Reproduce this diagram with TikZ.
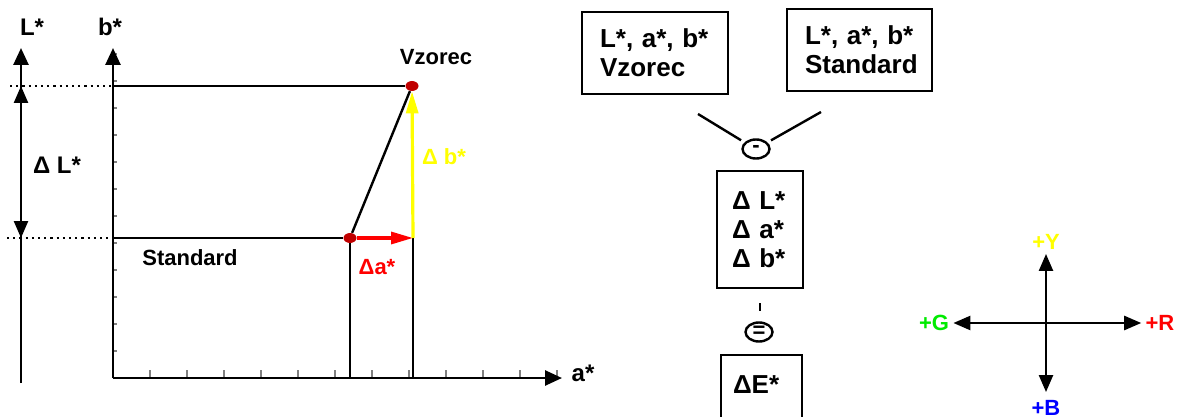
\documentclass[tikz,border=0pt]{standalone}
\usepackage{fontspec}
\setmainfont{Liberation Sans}
\usetikzlibrary{arrows.meta,shapes.geometric,calc}
\definecolor{dotred}{RGB}{192,0,0}
\definecolor{ylw}{RGB}{255,255,0}
\definecolor{grn}{RGB}{0,235,0}

\begin{document}
\begin{tikzpicture}[x=0.5pt,y=-0.5pt,
  axis/.style={line width=1.3pt,-{Triangle[length=8.5pt,width=7.5pt]}},
  dbl/.style={line width=1.2pt,{Triangle[length=8.5pt,width=7pt]}-{Triangle[length=8.5pt,width=7pt]}},
  plain/.style={line width=1.2pt},
  guide/.style={line width=1.1pt,dotted},
  tickmark/.style={gray,line width=0.8pt},
  lbl/.style={font=\bfseries\fontsize{11}{13}\selectfont,inner sep=2pt},
  big/.style={font=\bfseries\fontsize{12}{14}\selectfont,inner sep=2pt},
  colpt/.style={ellipse,fill=dotred,minimum width=6.5pt,minimum height=5pt,inner sep=0pt},
  box/.style={rectangle,draw,line width=1.2pt,align=left,inner xsep=9pt,
    font=\bfseries\fontsize{13}{14.5}\selectfont},
  op/.style={ellipse,draw,line width=1.2pt,minimum width=13.5pt,minimum height=9.5pt,
    inner sep=0pt,font=\bfseries\fontsize{11}{11}\selectfont}
]
\path[use as bounding box] (0,0) rectangle (1178,417);
\clip (0,0) rectangle (1178,417);

% L* axis and Delta L*
\coordinate (Lbot) at (21,383);
\coordinate (Ltop) at (21,48);
\coordinate (Lhi) at (21,86);
\coordinate (Llo) at (21,238);
\node[big] (Llab) at (32,27) {L*};
\draw[axis] (Lbot) -- (Ltop);
\draw[dbl] (Llo) -- (Lhi);
\node[big] (dL) at (57,165) {Δ L*};

% a*, b* plane
\coordinate (O) at (113,378);
\coordinate (Btop) at (113,48);
\coordinate (Aend) at (562,378);
\node[big] (blab) at (110,27) {b*};
\node[big] (alab) at (583,373) {a*};
\foreach \y in {54,81,...,351}
  \draw[tickmark] (113,\y) -- ++(4,0);
\foreach \x in {150,187,...,557}
  \draw[tickmark] (\x,378) -- ++(0,-8);
\draw[axis] (O) -- (Btop);
\draw[axis] (O) -- (Aend);

% Standard and Vzorec
\node[colpt] (std) at (350,238) {};
\node[colpt] (vz) at (412,86) {};
\coordinate (corner) at (413,238);
\node[lbl] (stdlab) at (190,258) {Standard};
\node[lbl] (vzlab) at (436,57) {Vzorec};
\coordinate (dh) at (10,86);
\coordinate (dl) at (7,238);
\draw[guide] (dh) -- (O |- vz);
\draw[guide] (dl) -- (O |- std);
\draw[plain] (O |- vz) -- (vz);
\draw[plain] (O |- std) -- (std);
\draw[plain] (std) -- (vz);
\draw[plain] (std) -- (std |- O);
\draw[plain] (corner) -- (corner |- O);
\draw[line width=1.6pt,red,-{Triangle[length=11pt,width=6pt]}] (std) -- (corner);
\draw[line width=1.6pt,ylw,-{Triangle[length=11pt,width=6pt]}] (corner) -- (vz);
\node[lbl,red] (da) at (377,267) {Δa*};
\node[lbl,ylw] (db) at (444,157) {Δ b*};

% difference scheme
\node[box,text width=55pt,minimum height=41pt] (vzbox) at (655,53) {L*, a*, b*\\Vzorec};
\node[box,text width=54.5pt,minimum height=41pt] (stbox) at (859.5,50) {L*, a*, b*\\Standard};
\node[op] (m1) at (756,149) {-};
\node[box,text width=28pt,inner xsep=7.5pt,minimum height=58.5pt] (dbox) at (760,229.5)
  {Δ L*\\Δ a*\\Δ b*};
\node[op] (m2) at (759,332) {=};
\node[box,text width=28.5pt,inner xsep=6pt,inner ysep=0pt,text height=19pt,text depth=20pt,
  anchor=north] (debox) at (761.5,354) {ΔE*};
\coordinate (c1) at (698,114);
\coordinate (c2) at (821,112);
\draw[plain,shorten >=2pt] (c1) -- (m1.150);
\draw[plain,shorten >=2pt] (c2) -- (m1.30);
\draw[plain,shorten <=7pt,shorten >=5pt] (dbox.south) -- (dbox.south |- m2.north);

% colour directions
\node[lbl,ylw] (Y) at (1046,242) {+Y};
\node[lbl,grn] (G) at (934,323) {+G};
\node[lbl,red] (R) at (1160,323) {+R};
\node[lbl,blue] (B) at (1046,408) {+B};
\draw[dbl] (G) -- (R);
\draw[dbl,shorten >=2pt] (Y) -- (B);
\end{tikzpicture}
\end{document}
